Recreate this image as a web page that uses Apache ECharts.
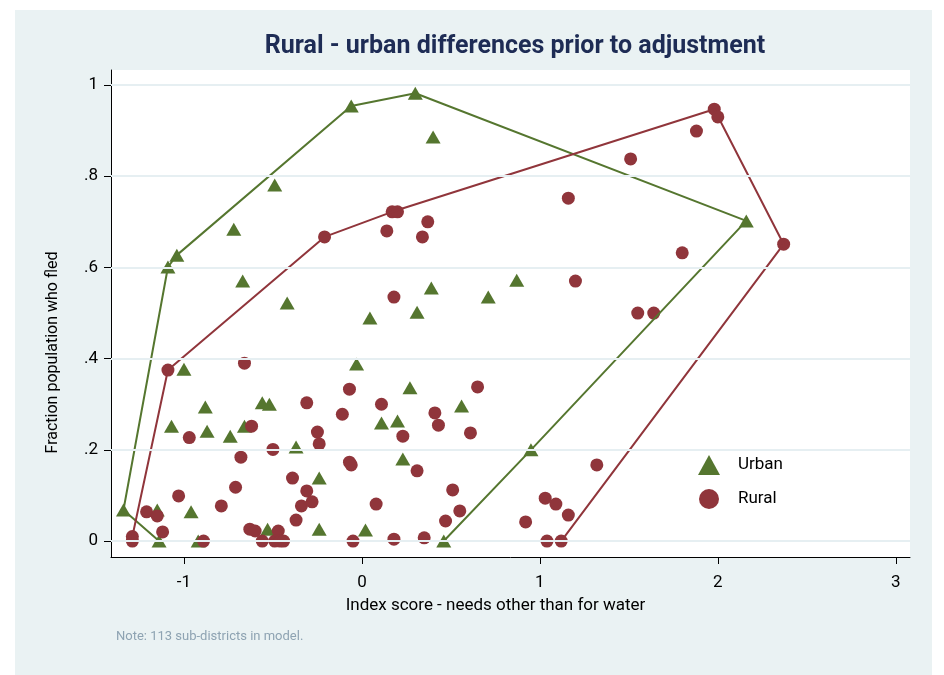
<!DOCTYPE html>
<html>
<head>
<meta charset="utf-8">
<script src="https://cdn.jsdelivr.net/npm/echarts@6/dist/echarts.min.js"></script>
<style>
  html, body { margin: 0; padding: 0; background: #ffffff; }
  #chart { position: absolute; left: 15px; top: 10px; width: 917px; height: 665px; }
</style>
</head>
<body>
<div id="chart"></div>
<script>
// ---- Data ----
var titleText = 'Rural - urban differences prior to adjustment';
var xAxisTitle = 'Index score - needs other than for water';
var yAxisTitle = 'Fraction population who fled';
var noteText = 'Note: 113 sub-districts in model.';
var seriesNames = ['Urban', 'Rural'];

var xTickValues = [-1, 0, 1, 2, 3];
var xTickLabels = ['-1', '0', '1', '2', '3'];
var yTickValues = [0, 0.2, 0.4, 0.6, 0.8, 1];
var yTickLabels = ['0', '.2', '.4', '.6', '.8', '1'];

var urbanX = [-1.34, -1.14, -1.15, -0.96, -0.92, -1.00, -1.07, -0.88, -0.87, -0.74,
              -0.66, -0.56, -0.52, -0.37, -0.53, -0.03, 0.27, 0.56, 0.11, 0.20,
              0.23, -0.24, -0.24, 0.02, 0.46, 0.95, 2.16, -1.09, -1.04, -0.49,
              -0.72, -0.67, -0.42, 0.045, 0.31, 0.39, 0.71, 0.87, -0.06, 0.30, 0.40];
var urbanY = [0.068, 0.0, 0.068, 0.064, 0.0, 0.377, 0.252, 0.294, 0.241, 0.230,
              0.252, 0.303, 0.300, 0.206, 0.026, 0.388, 0.336, 0.296, 0.259, 0.263,
              0.180, 0.138, 0.026, 0.024, 0.0, 0.200, 0.702, 0.601, 0.627, 0.781,
              0.684, 0.570, 0.522, 0.489, 0.502, 0.555, 0.535, 0.572, 0.954, 0.982, 0.886];

var ruralX = [-1.09, -0.66, -0.31, -0.62, -0.97, -0.50, -0.68, -0.39, -0.31, -1.03,
              -0.71, -0.79, -0.34, -0.37, -1.21, -1.15, -1.12, -1.29, -1.29, -0.89,
              -0.63, -0.60, -0.47, -0.56, -0.49, -0.46, -0.44, -0.25, -0.24, -0.28,
              -0.07, -0.11, 0.11, 0.41, 0.43, 0.65, 0.61, 0.23, -0.07, -0.06,
              0.31, 0.08, 0.51, 0.55, 0.47, -0.05, 0.18, 0.35, 1.32, 1.03,
              1.09, 1.16, 0.92, 1.04, 1.12, -0.21, 0.17, 0.20, 0.14, 0.37,
              0.34, 0.18, 1.16, 1.20, 1.55, 1.64, 1.80, 1.51, 1.98, 2.00,
              1.88, 2.37];
var ruralY = [0.375, 0.390, 0.303, 0.252, 0.227, 0.201, 0.184, 0.138, 0.110, 0.099,
              0.118, 0.077, 0.077, 0.046, 0.064, 0.055, 0.020, 0.010, 0.0, 0.0,
              0.026, 0.022, 0.022, 0.0, 0.0, 0.0, 0.0, 0.239, 0.213, 0.086,
              0.333, 0.278, 0.300, 0.281, 0.254, 0.338, 0.237, 0.230, 0.173, 0.167,
              0.154, 0.081, 0.112, 0.066, 0.044, 0.0, 0.004, 0.007, 0.167, 0.094,
              0.081, 0.057, 0.042, 0.0, 0.0, 0.667, 0.722, 0.722, 0.680, 0.700,
              0.667, 0.535, 0.752, 0.570, 0.500, 0.500, 0.632, 0.838, 0.947, 0.930,
              0.899, 0.651];

// ---- Helpers ----
function zip(xs, ys) { return xs.map(function (x, i) { return [x, ys[i]]; }); }
function convexHull(pts) {
  var p = pts.slice().sort(function (a, b) { return a[0] - b[0] || a[1] - b[1]; });
  function cross(o, a, b) { return (a[0]-o[0])*(b[1]-o[1]) - (a[1]-o[1])*(b[0]-o[0]); }
  var lower = [], upper = [];
  p.forEach(function (q) {
    while (lower.length >= 2 && cross(lower[lower.length-2], lower[lower.length-1], q) <= 0) lower.pop();
    lower.push(q);
  });
  for (var i = p.length - 1; i >= 0; i--) {
    var q = p[i];
    while (upper.length >= 2 && cross(upper[upper.length-2], upper[upper.length-1], q) <= 0) upper.pop();
    upper.push(q);
  }
  upper.pop(); lower.pop();
  var h = lower.concat(upper);
  h.push(h[0]);
  return h;
}

var urbanPts = zip(urbanX, urbanY);
var ruralPts = zip(ruralX, ruralY);
var urbanHull = convexHull(urbanPts);
var ruralHull = convexHull(ruralPts);

var GREEN = '#55762F';
var MAROON = '#90353B';
var BG = '#EAF2F3';
var FONT = 'Roboto, "Liberation Sans", sans-serif';

var chart = echarts.init(document.getElementById('chart'), null, { renderer: 'canvas' });

var option = {
  backgroundColor: BG,
  animation: false,
  textStyle: { fontFamily: FONT },
  title: [
    { text: titleText, left: 495, top: 19, textAlign: 'center',
      textStyle: { fontFamily: FONT, fontSize: 25, fontWeight: 'bold', color: '#1E2C55' } },
    { text: noteText, left: 96, top: 615,
      textStyle: { fontFamily: FONT, fontSize: 13, fontWeight: 'normal', color: '#8EA3B2' } }
  ],
  grid: { left: 96, top: 60, width: 799, height: 487, show: true, backgroundColor: '#ffffff', borderWidth: 0 },
  legend: {
    data: [
      { name: seriesNames[0], icon: 'triangle' },
      { name: seriesNames[1], icon: 'circle' }
    ],
    orient: 'vertical', left: 678, top: 440,
    itemWidth: 22, itemHeight: 20, itemGap: 14,
    textStyle: { fontFamily: FONT, fontSize: 17, color: '#000', padding: [0, 0, 0, 13] }
  },
  xAxis: {
    type: 'value', min: -1.41, max: 3.08,
    name: xAxisTitle, nameLocation: 'middle', nameGap: 40,
    nameTextStyle: { fontFamily: FONT, fontSize: 17, color: '#000', padding: [0, 30, 0, 0] },
    axisLine: { show: true, onZero: false, lineStyle: { color: '#000', width: 1 } },
    axisTick: { show: true, length: 7, customValues: xTickValues, lineStyle: { color: '#000' } },
    axisLabel: { customValues: xTickValues, margin: 17, fontFamily: FONT, fontSize: 17, color: '#000',
      formatter: function (v) { var i = xTickValues.indexOf(v); return i >= 0 ? xTickLabels[i] : ''; } },
    splitLine: { show: false }
  },
  yAxis: {
    type: 'value', min: -0.035, max: 1.033,
    name: yAxisTitle, nameLocation: 'middle', nameGap: 50,
    nameTextStyle: { fontFamily: FONT, fontSize: 16, color: '#000', padding: [0, 78, 0, 0] },
    axisLine: { show: true, onZero: false, lineStyle: { color: '#000', width: 1 } },
    axisTick: { show: true, length: 7, customValues: yTickValues, lineStyle: { color: '#000' } },
    axisLabel: { customValues: yTickValues, margin: 13, fontFamily: FONT, fontSize: 17, color: '#000',
      formatter: function (v) {
        for (var i = 0; i < yTickValues.length; i++) if (Math.abs(yTickValues[i] - v) < 1e-9) return yTickLabels[i];
        return '';
      } },
    splitLine: { show: false }
  },
  series: [
    {
      name: '_grid', type: 'line', data: [], silent: true,
      markLine: {
        silent: true, symbol: 'none', label: { show: false },
        lineStyle: { color: '#E6EFF2', width: 2, type: 'solid' },
        data: yTickValues.map(function (v) { return { yAxis: v }; })
      },
      z: 1
    },
    {
      name: seriesNames[0], type: 'scatter', data: urbanPts,
      symbol: 'triangle', symbolSize: [15, 13],
      itemStyle: { color: GREEN, opacity: 1 }, z: 3
    },
    {
      name: seriesNames[1], type: 'scatter', data: ruralPts,
      symbol: 'circle', symbolSize: 13,
      itemStyle: { color: MAROON, opacity: 1 }, z: 3
    },
    {
      name: 'Urban hull', type: 'line', data: urbanHull, showSymbol: false, symbol: 'none',
      lineStyle: { color: GREEN, width: 2 }, z: 4, silent: true
    },
    {
      name: 'Rural hull', type: 'line', data: ruralHull, showSymbol: false, symbol: 'none',
      lineStyle: { color: MAROON, width: 2 }, z: 4, silent: true
    }
  ]
};
chart.setOption(option);
</script>
</body>
</html>
